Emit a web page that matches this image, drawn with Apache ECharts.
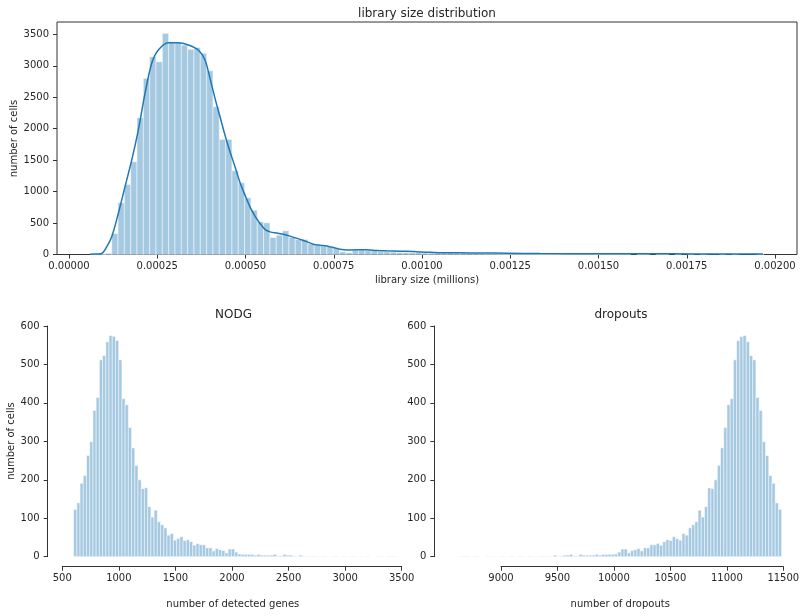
<!DOCTYPE html>
<html>
<head>
<meta charset="utf-8">
<script src="https://cdn.jsdelivr.net/npm/echarts@6/dist/echarts.min.js"></script>
<style>html,body{margin:0;padding:0;background:#fff}#c{width:806px;height:616px}</style>
</head>
<body>
<div id="c"></div>
<script>
// ---------- data ----------
// library size histogram (bins of equal width)
const libBinStart = 0.00006714;
const libBinWidth = 0.00001793;
const libCounts = [
  5,10,20,334,822,1114,1474,2174,2800,3145,
  3065,3516,3383,3367,3330,3261,3290,3198,2922,2349,
  1830,1830,1331,1140,901,705,520,504,270,308,
  377,270,239,240,170,148,135,132,110,42,
  30,70,70,62,58,45,48,38,32,30,
  28,30,25,22,28,25,30,25,22,20,
  18,15,12,12,10,8,8,6,5,5,
  4,4,3,3,3,2,2,2,2,1,
  2,1,1,1,1,0,1,1,0,1,
  1,0,1,0,1,0,1,0,0,1,
  0,1,0,0,0,1
];
// KDE curve [x, count]
const libKdeX = [0.0000595,0.0000765,0.0000926,0.0001068,0.0001210,0.0001397,0.0001586,0.0001776,0.0001963,0.0002153,
  0.0002343,0.0002530,0.0002813,0.0003096,0.0003380,0.0003663,0.0003853,0.0003994,0.0004136,0.0004278,
  0.0004419,0.0004561,0.0004703,0.0004844,0.0004986,0.0005127,0.0005269,0.0005411,0.0005552,0.0005694,
  0.0005884,0.0006071,0.0006261,0.0006544,0.0006734,0.0006921,0.0007110,0.0007300,0.0007487,0.0007677,
  0.0007867,0.0008150,0.0008433,0.0008717,0.0009000,0.0009377,0.0009754,0.0010133,0.0010510,0.0011076,
  0.0011643,0.0012399,0.0013343,0.0015232,0.0017119,0.0018442,0.0019660];
const libKdeY = [3,6,15,122,281,652,1076,1500,1978,2561,
  3039,3250,3367,3367,3330,3251,3092,2800,2482,2190,
  1898,1633,1395,1145,944,758,610,493,400,360,
  340,322,292,240,205,164,148,135,111,85,
  72,74,74,64,58,53,46,37,28,26,
  24,20,15,12,10,8,6];
const libXTicks = [0,0.00025,0.0005,0.00075,0.001,0.00125,0.0015,0.00175,0.002];
const libYTicks = [0,500,1000,1500,2000,2500,3000,3500];

// number of detected genes histogram
const nodgBinStart = 600;
const nodgBinWidth = 28.46;
const nodgCounts = [
  123,140,191,211,263,299,380,414,512,523,
  559,575,573,562,512,411,395,336,283,237,
  200,177,179,130,103,121,91,83,75,56,
  60,43,47,52,42,44,39,30,34,31,
  31,23,23,15,21,18,16,10,20,20,
  12,7,6,6,6,6,4,6,4,4,
  4,4,6,2,2,6,4,4,2,1,
  4,1,1,1,1,1,0,1,1,0,
  1,1,0,1,1,0,1,1,0,1,
  0,1,0,0,1,1,0,1,1,1
];

// number of dropouts histogram
const dropBinStart = 8639;
const dropBinWidth = 28.46;
const dropCounts = [
  1,1,1,0,1,1,0,0,1,0,
  1,0,1,1,0,1,1,0,1,1,
  0,1,1,0,1,1,1,1,1,4,
  1,2,4,4,6,2,2,6,4,4,
  4,4,6,4,6,6,6,6,7,12,
  20,20,10,16,18,21,15,23,23,31,
  31,34,30,39,44,42,52,47,43,60,
  56,75,83,91,121,103,130,179,177,200,
  237,283,336,395,411,512,562,573,575,559,
  523,512,414,380,299,263,211,191,140,123
];

// ---------- chart ----------
const FONT = 'DejaVu Sans';
const TXT = '#262626';
const AX = '#333333';
const BAR_FILL = 'rgba(31,119,180,0.4)';
const BAR_EDGE = 'rgba(255,255,255,0.5)';

function bins(start, width, counts) {
  return counts.map((c, i) => [start + i * width, start + (i + 1) * width, c]);
}
function histItem(params, api) {
  const c = api.value(2);
  if (!(c > 0)) return null;
  const p0 = api.coord([api.value(0), 0]);
  const p1 = api.coord([api.value(1), c]);
  return {
    type: 'rect',
    shape: { x: p0[0], y: p1[1], width: p1[0] - p0[0], height: p0[1] - p1[1] },
    style: { fill: BAR_FILL, stroke: BAR_EDGE, lineWidth: 1 }
  };
}
const plain = v => String(v);
const tickLabel = { color: TXT, fontFamily: FONT, fontSize: 10 };

const chart = echarts.init(document.getElementById('c'), null, { renderer: 'canvas' });
chart.setOption({
  animation: false,
  backgroundColor: '#ffffff',
  grid: [
    { left: 57, top: 22, width: 740, height: 232.5, show: true, borderColor: AX, borderWidth: 1, backgroundColor: 'transparent' },
    { left: 62.3, top: 326, width: 339.4, height: 230.7 },
    { left: 501, top: 326, width: 282.3, height: 230.7 }
  ],
  xAxis: [
    { gridIndex: 0, type: 'value', min: -0.000034, max: 0.0020623,
      axisLine: { show: false, onZero: false },
      axisTick: { show: true, length: 4, customValues: libXTicks, lineStyle: { color: AX } },
      axisLabel: Object.assign({ margin: 7, customValues: libXTicks, formatter: v => v.toFixed(5) }, tickLabel),
      splitLine: { show: false } },
    { gridIndex: 1, type: 'value', min: 500, max: 3500, interval: 500, offset: 10,
      axisLine: { show: true, onZero: false, lineStyle: { color: AX } },
      axisTick: { show: true, length: 4, lineStyle: { color: AX } },
      axisLabel: Object.assign({ margin: 7, formatter: plain }, tickLabel),
      splitLine: { show: false } },
    { gridIndex: 2, type: 'value', min: 9000, max: 11500, interval: 500, offset: 10,
      axisLine: { show: true, onZero: false, lineStyle: { color: AX } },
      axisTick: { show: true, length: 4, lineStyle: { color: AX } },
      axisLabel: Object.assign({ margin: 7, formatter: plain }, tickLabel),
      splitLine: { show: false } }
  ],
  yAxis: [
    { gridIndex: 0, type: 'value', min: 0, max: 3696,
      axisLine: { show: false, onZero: false },
      axisTick: { show: true, length: 4, customValues: libYTicks, lineStyle: { color: AX } },
      axisLabel: Object.assign({ margin: 8, customValues: libYTicks, formatter: plain }, tickLabel),
      splitLine: { show: false } },
    { gridIndex: 1, type: 'value', min: 0, max: 600, interval: 100, offset: 14.6,
      axisLine: { show: true, onZero: false, lineStyle: { color: AX } },
      axisTick: { show: true, length: 4, lineStyle: { color: AX } },
      axisLabel: Object.assign({ margin: 8, formatter: plain }, tickLabel),
      splitLine: { show: false } },
    { gridIndex: 2, type: 'value', min: 0, max: 600, interval: 100, offset: 66.7,
      axisLine: { show: true, onZero: false, lineStyle: { color: AX } },
      axisTick: { show: true, length: 4, lineStyle: { color: AX } },
      axisLabel: Object.assign({ margin: 8, formatter: plain }, tickLabel),
      splitLine: { show: false } }
  ],
  series: [
    { type: 'custom', xAxisIndex: 0, yAxisIndex: 0, renderItem: histItem, clip: false,
      encode: { x: [0, 1], y: 2 }, data: bins(libBinStart, libBinWidth, libCounts), z: 1 },
    { type: 'line', xAxisIndex: 0, yAxisIndex: 0, smooth: 0.3, showSymbol: false, symbol: 'none',
      lineStyle: { color: '#1f77b4', width: 1.5 }, z: 3,
      data: libKdeX.map((x, i) => [x, libKdeY[i]]) },
    { type: 'custom', xAxisIndex: 1, yAxisIndex: 1, renderItem: histItem, clip: false,
      encode: { x: [0, 1], y: 2 }, data: bins(nodgBinStart, nodgBinWidth, nodgCounts) },
    { type: 'custom', xAxisIndex: 2, yAxisIndex: 2, renderItem: histItem, clip: false,
      encode: { x: [0, 1], y: 2 }, data: bins(dropBinStart, dropBinWidth, dropCounts) }
  ],
  graphic: [
    { type: 'text', x: 427, y: 13.5, style: { text: 'library size distribution', font: '12px "' + FONT + '"', fill: TXT, align: 'center', verticalAlign: 'middle' } },
    { type: 'text', x: 427, y: 280.5, style: { text: 'library size (millions)', font: '10px "' + FONT + '"', fill: TXT, align: 'center', verticalAlign: 'middle' } },
    { type: 'text', x: 14.5, y: 138.5, rotation: Math.PI / 2, style: { text: 'number of cells', font: '10px "' + FONT + '"', fill: TXT, align: 'center', verticalAlign: 'middle' } },
    { type: 'text', x: 233.5, y: 314.5, style: { text: 'NODG', font: '12px "' + FONT + '"', fill: TXT, align: 'center', verticalAlign: 'middle' } },
    { type: 'text', x: 621, y: 314.5, style: { text: 'dropouts', font: '12px "' + FONT + '"', fill: TXT, align: 'center', verticalAlign: 'middle' } },
    { type: 'text', x: 11.5, y: 441, rotation: Math.PI / 2, style: { text: 'number of cells', font: '10px "' + FONT + '"', fill: TXT, align: 'center', verticalAlign: 'middle' } },
    { type: 'text', x: 232.8, y: 604.5, style: { text: 'number of detected genes', font: '10px "' + FONT + '"', fill: TXT, align: 'center', verticalAlign: 'middle' } },
    { type: 'text', x: 620.2, y: 604.5, style: { text: 'number of dropouts', font: '10px "' + FONT + '"', fill: TXT, align: 'center', verticalAlign: 'middle' } }
  ]
});
</script>
</body>
</html>
